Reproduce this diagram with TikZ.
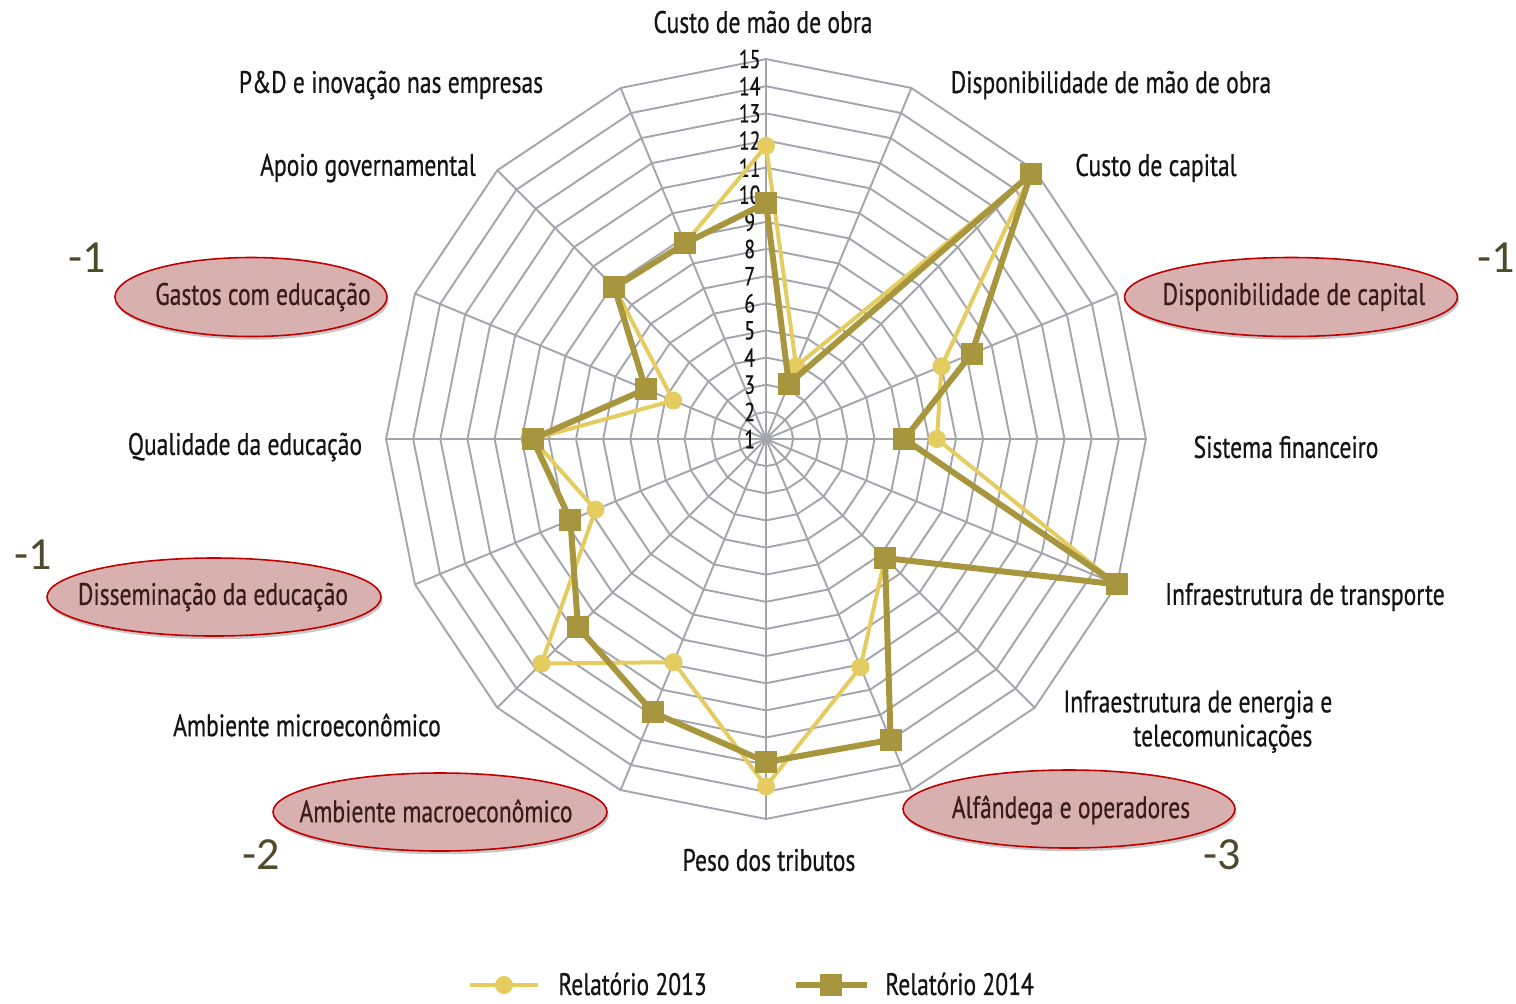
\documentclass[tikz,border=0pt]{standalone}
\usepackage{fontspec}
\setmainfont{PT Sans}[FakeStretch=0.76,FakeBold=0.6]
\newfontfamily\calfont{Carlito}
\usetikzlibrary{shapes.geometric,shadows}
\definecolor{gridc}{RGB}{164,164,172}
\definecolor{c13}{RGB}{228,204,96}
\definecolor{c14}{RGB}{168,150,62}
\definecolor{hlfill}{RGB}{216,176,176}
\definecolor{hlborder}{RGB}{192,0,0}
\definecolor{hltext}{RGB}{58,28,28}
\definecolor{deltac}{RGB}{78,74,44}
\definecolor{txt}{RGB}{20,20,20}
\begin{document}
\begin{tikzpicture}[x=0.5pt,y=-0.5pt,
  grid/.style={draw=gridc, line width=0.95pt},
  axislbl/.style={font=\fontsize{15.5}{18}\selectfont, text=txt, inner sep=1pt},
  leglbl/.style={font=\fontsize{15.5}{18}\selectfont, text=txt, inner sep=0pt},
  numlbl/.style={font=\fontsize{13}{13}\selectfont, text=txt, inner sep=0pt},
  hlshape/.style={ellipse, draw=hlborder, line width=0.8pt, fill=hlfill, inner sep=0pt,
    drop shadow={shadow xshift=0.8pt, shadow yshift=-1.6pt, opacity=0.22, fill=black}},
  hltxt/.style={font=\fontsize{15.5}{18}\selectfont, text=hltext, inner sep=1pt},
  delta/.style={font=\calfont\fontsize{23}{26}\selectfont, text=deltac, inner sep=0pt},
  line13/.style={draw=c13, line width=2pt, line join=round},
  line14/.style={draw=c14, line width=3pt, line join=round},
  mk13/.style={circle, fill=c13, minimum size=9pt, inner sep=0pt},
  mk14/.style={rectangle, fill=c14, minimum size=11pt, inner sep=0pt},
]
\useasboundingbox (0,0) rectangle (1516,1003);
\coordinate (O) at (766,439);
\begin{scope}[shift={(O)}, x=13.57pt, y=13.57pt]
  % grid rings
  \foreach \k in {1,...,14}
    \draw[grid] (90:\k) \foreach \j in {1,...,15}{ -- ({90-22.5*\j}:\k)} -- cycle;
  % spokes
  \foreach \j in {0,...,15}
    \draw[grid] (0,0) -- ({90-22.5*\j}:14);
  % scale numbers
  \foreach \k in {1,...,15}
    \node[numlbl] (n\k) at (-0.6,\k-1) {\k};
  % data 2013
  \foreach \v [count=\i from 0] in {11.8,3.9,14.8,8.0,7.3,15,7.2,10.1,13.8,9.9,12.7,7.8,9.6,4.7,8.9,8.8}
    \coordinate (a\i) at ({90-22.5*\i}:{\v-1});
  % data 2014
  \foreach \v [count=\i from 0] in {9.7,3.2,14.8,9.2,6.1,15,7.2,13.0,12.9,11.9,10.8,8.8,9.6,5.8,8.9,8.8}
    \coordinate (b\i) at ({90-22.5*\i}:{\v-1});
  \draw[line13] (a0) \foreach \i in {1,...,15}{ -- (a\i)} -- cycle;
  \foreach \i in {0,...,15} \node[mk13] (pa\i) at (a\i) {};
  \draw[line14] (b0) \foreach \i in {1,...,15}{ -- (b\i)} -- cycle;
  \foreach \i in {0,...,15} \node[mk14] (pb\i) at (b\i) {};
\end{scope}

% highlight ellipses
\node[hlshape, minimum width=166.5pt, minimum height=39.5pt] (E3) at (1291,297) {};
\node[hlshape, minimum width=166pt, minimum height=39pt] (E7) at (1069,809) {};
\node[hlshape, minimum width=167pt, minimum height=39pt] (E9) at (440,812) {};
\node[hlshape, minimum width=167pt, minimum height=39pt] (E11) at (214,597) {};
\node[hlshape, minimum width=136pt, minimum height=39.5pt] (E13) at (251,297) {};

% axis labels
\node[axislbl] (L0) at (763,22) {Custo de mão de obra};
\node[axislbl] (L1) at (1111,85) {Disponibilidade de mão de obra};
\node[axislbl] (L2) at (1156,168) {Custo de capital};
\node[hltxt] (L3) at (1294,297) {Disponibilidade de capital};
\node[axislbl] (L4) at (1286,447) {Sistema financeiro};
\node[axislbl] (L5) at (1305,597) {Infraestrutura de transporte};
\node[axislbl, align=left, anchor=north west] (L6) at (1061,688) {Infraestrutura de energia e\\[-1pt]\hspace*{35pt}telecomunicações};
\node[hltxt] (L7) at (1071,810) {Alfândega e operadores};
\node[axislbl] (L8) at (769,860) {Peso dos tributos};
\node[hltxt] (L9) at (436,811) {Ambiente macroeconômico};
\node[axislbl] (L10) at (307,725) {Ambiente microeconômico};
\node[hltxt] (L11) at (213,597) {Disseminação da educação};
\node[axislbl] (L12) at (245,447) {Qualidade da educação};
\node[hltxt] (L13) at (263,297) {Gastos com educação};
\node[axislbl] (L14) at (368,168) {Apoio governamental};
\node[axislbl] (L15) at (391,85) {P\&D e inovação nas empresas};

% deltas
\node[delta] (d1) at (87,258) {-1};
\node[delta] (d2) at (1496,258) {-1};
\node[delta] (d3) at (33,555) {-1};
\node[delta] (d4) at (261,855) {-2};
\node[delta] (d5) at (1222,855) {-3};

% legend
\coordinate (g13a) at (470,985);
\coordinate (g13b) at (538,985);
\draw[line13] (g13a) -- (g13b);
\node[mk13] (g13m) at (504,985) {};
\node[leglbl, anchor=west] (g13t) at (558,984) {Relatório 2013};
\coordinate (g14a) at (796,985);
\coordinate (g14b) at (867,985);
\draw[line14] (g14a) -- (g14b);
\node[mk14] (g14m) at (831,985) {};
\node[leglbl, anchor=west] (g14t) at (885,984) {Relatório 2014};
\end{tikzpicture}
\end{document}
